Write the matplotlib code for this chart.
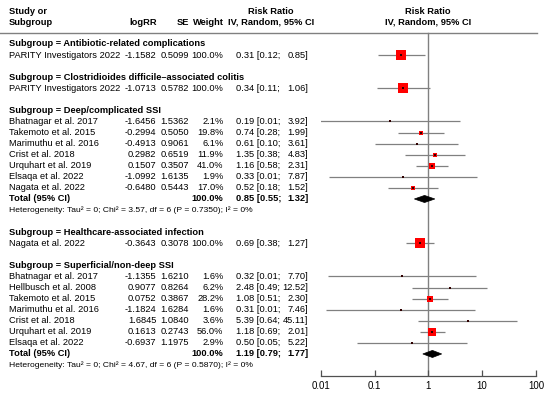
import numpy as np
import matplotlib
matplotlib.use("Agg")
import matplotlib.pyplot as plt
from matplotlib.patches import Polygon

plt.rcParams['font.family'] = ['Liberation Sans', 'DejaVu Sans']

# ---------------- data ----------------
subgroup_names = ["Antibiotic-related complications",
                  "Clostridioides difficile\u2013associated colitis",
                  "Deep/complicated SSI",
                  "Healthcare-associated infection",
                  "Superficial/non-deep SSI"]

ab_studies = ["PARITY Investigators 2022"]
ab_logrr = [-1.1582]
ab_se = [0.5099]
ab_weight = [100.0]
ab_rr = [0.31]; ab_lo = [0.12]; ab_hi = [0.85]

cd_studies = ["PARITY Investigators 2022"]
cd_logrr = [-1.0713]
cd_se = [0.5782]
cd_weight = [100.0]
cd_rr = [0.34]; cd_lo = [0.11]; cd_hi = [1.06]

deep_studies = ["Bhatnagar et al. 2017", "Takemoto et al. 2015", "Marimuthu et al. 2016",
                "Crist et al. 2018", "Urquhart et al. 2019", "Elsaqa et al. 2022", "Nagata et al. 2022"]
deep_logrr = [-1.6456, -0.2994, -0.4913, 0.2982, 0.1507, -1.0992, -0.6480]
deep_se = [1.5362, 0.5050, 0.9061, 0.6519, 0.3507, 1.6135, 0.5443]
deep_weight = [2.1, 19.8, 6.1, 11.9, 41.0, 1.9, 17.0]
deep_rr = [0.19, 0.74, 0.61, 1.35, 1.16, 0.33, 0.52]
deep_lo = [0.01, 0.28, 0.10, 0.38, 0.58, 0.01, 0.18]
deep_hi = [3.92, 1.99, 3.61, 4.83, 2.31, 7.87, 1.52]
deep_total = [0.85, 0.55, 1.32]
deep_het = [0, 3.57, 6, 0.7350, 0]   # tau2, chi2, df, p, I2

hai_studies = ["Nagata et al. 2022"]
hai_logrr = [-0.3643]
hai_se = [0.3078]
hai_weight = [100.0]
hai_rr = [0.69]; hai_lo = [0.38]; hai_hi = [1.27]

sup_studies = ["Bhatnagar et al. 2017", "Hellbusch et al. 2008", "Takemoto et al. 2015",
               "Marimuthu et al. 2016", "Crist et al. 2018", "Urquhart et al. 2019", "Elsaqa et al. 2022"]
sup_logrr = [-1.1355, 0.9077, 0.0752, -1.1824, 1.6845, 0.1613, -0.6937]
sup_se = [1.6210, 0.8264, 0.3867, 1.6284, 1.0840, 0.2743, 1.1975]
sup_weight = [1.6, 6.2, 28.2, 1.6, 3.6, 56.0, 2.9]
sup_rr = [0.32, 2.48, 1.08, 0.31, 5.39, 1.18, 0.50]
sup_lo = [0.01, 0.49, 0.51, 0.01, 0.64, 0.69, 0.05]
sup_hi = [7.70, 12.52, 2.30, 7.46, 45.11, 2.01, 5.22]
sup_total = [1.19, 0.79, 1.77]
sup_het = [0, 4.67, 6, 0.5870, 0]

tick_values = [0.01, 0.1, 1, 10, 100]
tick_labels = ["0.01", "0.1", "1", "10", "100"]

groups = [
    (subgroup_names[0], ab_studies, ab_logrr, ab_se, ab_weight, ab_rr, ab_lo, ab_hi, None, None),
    (subgroup_names[1], cd_studies, cd_logrr, cd_se, cd_weight, cd_rr, cd_lo, cd_hi, None, None),
    (subgroup_names[2], deep_studies, deep_logrr, deep_se, deep_weight, deep_rr, deep_lo, deep_hi, deep_total, deep_het),
    (subgroup_names[3], hai_studies, hai_logrr, hai_se, hai_weight, hai_rr, hai_lo, hai_hi, None, None),
    (subgroup_names[4], sup_studies, sup_logrr, sup_se, sup_weight, sup_rr, sup_lo, sup_hi, sup_total, sup_het),
]

# ---------------- layout ----------------
W, H = 550, 400
Y0, DY = 44.0, 11.07
def row(p):
    return (p - Y0) / DY

FS = 6.7
FS_HEAD = 6.7
FS_HET = 6.1
GRAY = '#808080'

fig = plt.figure(figsize=(W / 100, H / 100), dpi=100)
main = fig.add_axes([0, 0, 1, 1])
main.set_xlim(0, W)
main.set_ylim(row(H), row(0))
main.axis('off')

x_left, x_logrr, x_se, x_w, x_ci_l, x_ci_r = 9, 156.5, 189, 223.5, 236, 308.5
ax_left, ax_right, ax_bottom = 320.7, 536.0, 376.0

fx = fig.add_axes([ax_left / W, (H - ax_bottom) / H, (ax_right - ax_left) / W, ax_bottom / H])
fx.set_xscale('log')
fx.set_xlim(0.01, 100)
fx.set_ylim(row(ax_bottom), row(0))
fx.patch.set_alpha(0)
for s in ['top', 'left', 'right']:
    fx.spines[s].set_visible(False)
fx.spines['bottom'].set_color('#505050')
fx.spines['bottom'].set_linewidth(0.9)
fx.set_yticks([])
fx.set_xticks(tick_values)
fx.set_xticklabels(tick_labels)
fx.xaxis.set_minor_locator(matplotlib.ticker.NullLocator())
fx.tick_params(axis='x', direction='in', length=4, width=0.9, color='#505050',
               labelsize=7, pad=3.5)

# header
hb = dict(fontsize=FS_HEAD, fontweight='bold', va='center')
main.text(x_left, row(11), "Study or", ha='left', **hb)
main.text(x_left, row(22.5), "Subgroup", ha='left', **hb)
main.text(x_logrr, row(22.5), "logRR", ha='right', **hb)
main.text(x_se, row(22.5), "SE", ha='right', **hb)
main.text(x_w, row(22.5), "Weight", ha='right', **hb)
main.text(271, row(11), "Risk Ratio", ha='center', **hb)
main.text(271, row(22.5), "IV, Random, 95% CI", ha='center', **hb)
main.text(428, row(11), "Risk Ratio", ha='center', **hb)
main.text(428, row(22.5), "IV, Random, 95% CI", ha='center', **hb)
main.axhline(row(32.7), xmin=0, xmax=537 / W, color=GRAY, lw=1.0)

# reference line at RR = 1
fx.axvline(1, ymin=0, ymax=(ax_bottom - 32.7) / ax_bottom, color=GRAY, lw=1.0, zorder=1)

SQ100 = 9.6  # px side for 100% weight

r = 0
for name, studies, logrr, se, weight, rr, lo, hi, total, het in groups:
    main.text(x_left, r, "Subgroup = " + name, fontsize=FS, fontweight='bold', va='center')
    r += 1
    for i in range(len(studies)):
        main.text(x_left, r, studies[i], fontsize=FS, va='center')
        main.text(x_logrr, r, f"{logrr[i]:.4f}", fontsize=FS, va='center', ha='right')
        main.text(x_se, r, f"{se[i]:.4f}", fontsize=FS, va='center', ha='right')
        main.text(x_w, r, f"{weight[i]:.1f}%", fontsize=FS, va='center', ha='right')
        main.text(x_ci_l, r, f"{rr[i]:.2f} [{lo[i]:.2f};", fontsize=FS, va='center', ha='left')
        main.text(x_ci_r, r, f"{hi[i]:.2f}]", fontsize=FS, va='center', ha='right')
        est = np.exp(logrr[i])
        cl = np.exp(logrr[i] - 1.96 * se[i])
        ch = np.exp(logrr[i] + 1.96 * se[i])
        fx.plot([cl, ch], [r, r], color=GRAY, lw=0.9, zorder=2, solid_capstyle='butt')
        side_pt = SQ100 * np.sqrt(weight[i] / 100.0) * 0.72
        fx.scatter([est], [r], marker='s', s=side_pt ** 2, color='#ff0000', linewidths=0, zorder=3)
        fx.scatter([est], [r], marker='s', s=1.0, color='#300000', linewidths=0, zorder=4)
        r += 1
    if total is not None:
        main.text(x_left, r, "Total (95% CI)", fontsize=FS, fontweight='bold', va='center')
        main.text(x_w, r, "100.0%", fontsize=FS, fontweight='bold', va='center', ha='right')
        main.text(x_ci_l, r, f"{total[0]:.2f} [{total[1]:.2f};", fontsize=FS, fontweight='bold', va='center', ha='left')
        main.text(x_ci_r, r, f"{total[2]:.2f}]", fontsize=FS, fontweight='bold', va='center', ha='right')
        h = 0.32
        fx.add_patch(Polygon([(total[1], r), (total[0], r - h), (total[2], r), (total[0], r + h)],
                             closed=True, facecolor='black', edgecolor='black', lw=0.5, zorder=3))
        r += 1
        main.text(x_left, r,
                  f"Heterogeneity: Tau\u00b2 = {het[0]}; Chi\u00b2 = {het[1]:.2f}, df = {het[2]} "
                  f"(P = {het[3]:.4f}); I\u00b2 = {het[4]}%",
                  fontsize=FS_HET, va='center')
        r += 1
    r += 1

fig.savefig("out.png", dpi=100)
